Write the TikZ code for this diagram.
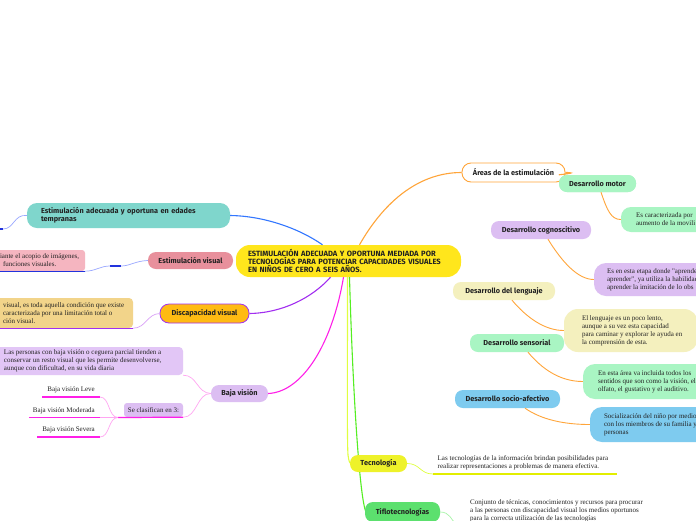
\documentclass[tikz,border=0pt]{standalone}
\usepackage{fontspec}
\newfontfamily\labfont{Fira Sans}
\newfontfamily\dscfont{Liberation Serif}
\definecolor{cYel}{HTML}{FFE61C}
\definecolor{cTeal}{HTML}{7FD6CC}
\definecolor{cPink}{HTML}{E8909C}
\definecolor{cPinkL}{HTML}{F5B5C0}
\definecolor{cOrY}{HTML}{FFBB12}
\definecolor{cTan}{HTML}{F2D48A}
\definecolor{cPurL}{HTML}{E2C6F6}
\definecolor{cLav}{HTML}{DCBEF2}
\definecolor{cGreenL}{HTML}{A9F5C3}
\definecolor{cCream}{HTML}{F4F0BE}
\definecolor{cSky}{HTML}{7ECBEF}
\definecolor{cTec}{HTML}{EEF22A}
\definecolor{cTiflo}{HTML}{5CE06E}
\definecolor{lOrange}{HTML}{FFA53A}
\definecolor{lBlue}{HTML}{3377FF}
\definecolor{lBlueL}{HTML}{9AA8FF}
\definecolor{lBlueD}{HTML}{2233DD}
\definecolor{lPur}{HTML}{A22FF0}
\definecolor{lPurL}{HTML}{D9A0F7}
\definecolor{lMag}{HTML}{FF1FE8}
\definecolor{lMagL}{HTML}{FFA6F2}
\definecolor{lYel}{HTML}{E0FF40}
\definecolor{lYelD}{HTML}{E2EE00}
\definecolor{lGreen}{HTML}{55EE22}
\definecolor{lGreenL}{HTML}{A8F5A8}
\definecolor{txt}{HTML}{222222}
\tikzset{
  lab/.style={font=\labfont\bfseries\fontsize{7.3}{8.2}\selectfont, text=txt, inner sep=0pt, align=center, rounded corners=8pt},
  dbox/.style={inner sep=0pt, rounded corners=#1},
  dsc/.style={font=\dscfont\fontsize{7}{7.9}\selectfont, text=txt, inner sep=0pt, align=left, anchor=west},
  conn/.style={line width=1.1pt},
  thinc/.style={line width=0.7pt},
  uline/.style={line width=1.2pt},
}
\begin{document}
\begin{tikzpicture}[x=1pt,y=-1pt]
\useasboundingbox (0,0) rectangle (696,520);
\clip (0,0) rectangle (696,520);
\fill[white] (0,0) rectangle (696,520);

% ---------- description boxes ----------
\node[dbox=3pt, fill=cPinkL, minimum width=105pt, minimum height=21pt] (pdsc) at (32.5,260.5) {};
\node[dbox=4pt, fill=cTan, minimum width=153pt, minimum height=30pt] (tdsc) at (56.5,313) {};
\node[dbox=4pt, fill=cPurL, minimum width=203pt, minimum height=28pt] (vdsc) at (81.5,361) {};
\node[dbox=10pt, fill=cGreenL, minimum width=139pt, minimum height=25pt] (mdsc) at (690.5,219.5) {};
\node[dbox=12pt, fill=cLav, minimum width=166pt, minimum height=33pt] (cdsc) at (677,279.5) {};
\node[dbox=14pt, fill=cCream, minimum width=134pt, minimum height=43pt] (ldsc) at (631,330.5) {};
\node[dbox=12pt, fill=cGreenL, minimum width=177pt, minimum height=35pt] (sdsc) at (671.5,381.5) {};
\node[dbox=12pt, fill=cSky, minimum width=170pt, minimum height=35pt] (odsc) at (675,424.5) {};

% ---------- named coordinates ----------
\coordinate (tl) at (3,229);
\coordinate (tl0) at (-6,229);
\coordinate (pk1) at (121,266);
\coordinate (pk2) at (110,266);
\coordinate (sc1) at (118,417.5);
\coordinate (lv1) at (42,397);
\coordinate (lv2) at (100,397);
\coordinate (md1) at (29,417.5);
\coordinate (md2) at (100,417.5);
\coordinate (sv1) at (37,437);
\coordinate (sv2) at (100,437);
\coordinate (tu1) at (433,474);
\coordinate (tu2) at (617,474);
\coordinate (fu1) at (456,524);

% ---------- label nodes ----------
\node[lab, fill=cYel, minimum width=225pt, minimum height=32pt, rounded corners=14pt, text width=201pt, align=left, font=\labfont\bfseries\fontsize{7.6}{8}\selectfont] (cen) at (348.5,261)
  {ESTIMULACIÓN ADECUADA Y OPORTUNA MEDIADA POR\\TECNOLOGÍAS PARA POTENCIAR CAPACIDADES VISUALES\\EN NIÑOS DE CERO A SEIS AÑOS.};
\node[lab, fill=cTeal, minimum width=203pt, minimum height=25pt, rounded corners=10pt, text width=175pt, align=left] (teal) at (128.5,215.5)
  {Estimulación adecuada y oportuna en edades\\tempranas};
\node[lab, fill=cPink, minimum width=85pt, minimum height=17pt] (pinkn) at (190.5,260.5) {Estimulación visual};
\node[lab, fill=cOrY, draw=lPur, line width=0.8pt, minimum width=89pt, minimum height=19pt, rounded corners=9pt] (disc) at (204.5,313.5) {Discapacidad visual};
\node[lab, fill=cLav, minimum width=57pt, minimum height=17pt] (baja) at (239.5,393.5) {Baja visión};
\node[lab, font=\dscfont\fontsize{7}{7.9}\selectfont, fill=cLav, minimum width=59pt, minimum height=14pt, rounded corners=3pt] (sc) at (153.5,410) {Se clasifican en 3:};

% ---------- connectors (left) ----------
\draw[thinc, lBlueL] (teal.west) .. controls (14,214) and (14,229) .. (tl);
\draw[uline, lBlueD] (tl) -- (tl0);
\draw[conn, lBlue] ([xshift=-26pt]cen.north) .. controls (300,229) and (265,216) .. (teal.east);
\draw[thinc, lBlueL] (pinkn.west) .. controls (135,261) and (130,266) .. (pk1);
\draw[uline, lBlueD] (pk1) -- (pk2);
\draw[thinc, lBlueL] (pk2) .. controls (100,266) and (96,271) .. (pdsc.south east);
\draw[uline, lBlueD] (pdsc.south west) -- (pdsc.south east);
\draw[conn, lPur] ([xshift=-18pt]cen.south) .. controls (312,298) and (282,313) .. (disc.east);
\draw[thinc, lPurL] (disc.west) .. controls (147,314) and (146,328) .. (tdsc.south east);
\draw[uline, lPur] (tdsc.south west) -- (tdsc.south east);
\draw[conn, lMag] ([xshift=-5pt]cen.south) .. controls (332,345) and (302,392) .. (baja.east);
\draw[thinc, lMagL] (baja.west) .. controls (197,393) and (197,375) .. (vdsc.south east);
\draw[thinc, lMagL] (baja.west) .. controls (197,393) and (197,417.5) .. (sc.south east);
\draw[uline, lMag] (sc1) -- (sc.south east);
\draw[thinc, lMagL] (sc1) .. controls (108,417.5) and (110,397) .. (lv2);
\draw[thinc, lMagL] (sc1) -- (md2);
\draw[thinc, lMagL] (sc1) .. controls (108,417.5) and (110,437) .. (sv2);
\draw[uline, lMag] (lv1) -- (lv2);
\draw[uline, lMag] (md1) -- (md2);
\draw[uline, lMag] (sv1) -- (sv2);

% ---------- right side ----------
\node[lab, fill=white, draw=lOrange, line width=0.9pt, minimum width=103pt, minimum height=19pt, rounded corners=9pt] (areas) at (513.5,172.5) {Áreas de la estimulación};
\draw[conn, lOrange] ([xshift=11pt]cen.north) .. controls (385,200) and (420,172.5) .. (areas.west);
\node[lab, fill=cGreenL, minimum width=77pt, minimum height=17pt] (motor) at (597.5,183.5) {Desarrollo motor};
\draw[conn, lOrange] (areas.east) .. controls (572,172.5) and (576,173) .. (motor.north west);
\node[lab, fill=cGreenL, minimum width=77pt, minimum height=17pt] (motor) at (597.5,183.5) {Desarrollo motor};
\node[lab, fill=cLav, minimum width=100pt, minimum height=18pt] (cog) at (541,230) {Desarrollo cognoscitivo};
\node[lab, fill=cCream, minimum width=102pt, minimum height=18pt] (len) at (504,291) {Desarrollo del lenguaje};
\node[lab, fill=cGreenL, minimum width=94pt, minimum height=18pt] (sens) at (517,343) {Desarrollo sensorial};
\node[lab, fill=cSky, minimum width=105pt, minimum height=18pt] (socio) at (507.5,399) {Desarrollo socio-afectivo};

\draw[lOrange, line width=0.9pt] ([xshift=3.5pt]motor.south) .. controls (607,210) and (611,219.5) .. (mdsc.west);
\draw[lOrange, line width=0.9pt] ([xshift=7pt]cog.south) .. controls (562,262) and (578,279.5) .. (cdsc.west);
\draw[lOrange, line width=0.9pt] ([xshift=8pt]len.south) .. controls (527,318) and (545,330.5) .. (ldsc.west);
\draw[lOrange, line width=0.9pt] ([xshift=11pt]sens.south) .. controls (542,369) and (560,381.5) .. (sdsc.west);
\draw[lOrange, line width=0.9pt] ([xshift=17.5pt]socio.south) .. controls (542,420) and (565,424.5) .. (odsc.west);

% ---------- bottom ----------
\draw[conn, lYel] ([xshift=-1pt]cen.south) .. controls (347.5,380) and (347,440) .. (348,455) .. controls (349,461) and (349,463.5) .. (352,463.5);
\draw[conn, lGreen] ([xshift=1pt]cen.south) .. controls (353,400) and (360,500) .. (366,512);
\node[lab, fill=cTec, minimum width=57pt, minimum height=17pt] (tec) at (378.5,463.5) {Tecnología};
\node[lab, fill=cTiflo, minimum width=75pt, minimum height=20pt] (tiflo) at (402.5,512) {Tiflotecnologías};
\draw[thinc, lYel] (tec.east) .. controls (420,463.5) and (420,474) .. (tu1);
\draw[uline, lYelD] (tu1) -- (tu2);
\draw[thinc, lGreenL] (tiflo.east) .. controls (450,512) and (451,520) .. (fu1);

% ---------- description texts ----------
\node[dsc] (pdsct) at ([xshift=20pt]pdsc.west) {iante el acopio de imágenes,\\\hspace*{3pt}funciones visuales.};
\node[dsc] (tdsct) at ([xshift=23pt]tdsc.west) {visual, es toda aquella condición que existe\\caracterizada por una limitación total o\\ción visual.};
\node[dsc] (vdsct) at ([xshift=24pt]vdsc.west) {Las personas con baja visión o ceguera parcial tienden a\\conservar un resto visual que les permite desenvolverse,\\aunque con dificultad, en su vida diaria};
\node[dsc, anchor=east] (lvt) at (95,390) {Baja visión Leve};
\node[dsc, anchor=east] (mdt) at (95,410.5) {Baja visión Moderada};
\node[dsc, anchor=east] (svt) at (95,430) {Baja visión Severa};
\node[dsc] (mdsct) at ([xshift=15pt]mdsc.west) {Es caracterizada por\\aumento de la movili};
\node[dsc] (cdsct) at ([xshift=13pt]cdsc.west) {Es en esta etapa donde "aprende\\aprender", ya utiliza la habilidad\\aprender la imitación de lo obs};
\node[dsc] (ldsct) at ([xshift=18pt]ldsc.west) {El lenguaje es un poco lento,\\aunque a su vez esta capacidad\\para caminar y explorar le ayuda en\\la comprensión de esta.};
\node[dsc] (sdsct) at ([xshift=15pt]sdsc.west) {En esta área va incluida todos los\\sentidos que son como la visión, el\\olfato, el gustativo y el auditivo.};
\node[dsc] (odsct) at ([xshift=14pt]odsc.west) {Socialización del niño por medio\\con los miembros de su familia y\\personas};
\node[dsc] (tect) at (437.5,463) {Las tecnologías de la información brindan posibilidades para\\realizar representaciones a problemas de manera efectiva.};
\node[dsc] (tiflot) at (470,510.5) {Conjunto de técnicas, conocimientos y recursos para procurar\\a las personas con discapacidad visual los medios oportunos\\para la correcta utilización de las tecnologías};
\end{tikzpicture}
\end{document}
